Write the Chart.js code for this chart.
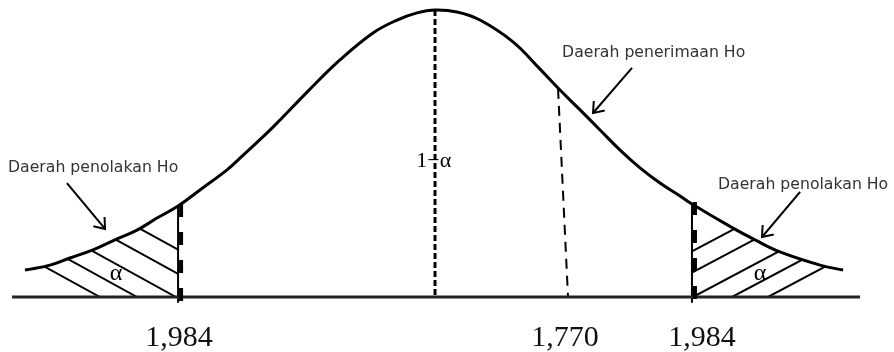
<!DOCTYPE html>
<html><head><meta charset="utf-8">
<script src="https://cdn.jsdelivr.net/npm/chart.js@4/dist/chart.umd.min.js"></script>
<style>html,body{margin:0;padding:0;background:#fff;overflow:hidden}canvas{display:block}</style>
</head><body>
<canvas id="c" width="894" height="352"></canvas>
<script>
// ---- data (x: position units, y: relative height) ----
const curveX = [-3.166,-2.973,-2.819,-2.641,-2.471,-2.301,-2.147,-1.984,-1.815,-1.606,-1.506,-1.251,-0.988,-0.734,-0.479,-0.293,-0.139,0,0.17,0.347,0.602,0.811,0.965,1.120,1.274,1.429,1.583,1.737,1.892,1.984,2.301,2.471,2.664,2.973,3.151];
const curveY = [0.094,0.111,0.136,0.164,0.199,0.233,0.275,0.317,0.373,0.443,0.484,0.592,0.714,0.826,0.920,0.965,0.990,1.0,0.993,0.965,0.889,0.794,0.721,0.652,0.582,0.512,0.450,0.397,0.352,0.324,0.240,0.199,0.157,0.111,0.094];
const criticalX = [-1.984, 1.984];
const criticalTop = [0.317, 0.324];
const centerX = [0, 0];
const centerY = [1.0, 0];
const acceptX = [0.95, 1.027];
const acceptY = [0.725, 0];
const baseX = [-3.266, 3.282];
const leftHatch = [-2.587, -2.301, -2.0, -1.660, -1.320];
const rightHatch = [1.320, 1.629, 1.992, 2.293, 2.571];
const tickLabels = ['1,984', '1,770', '1,984'];
const tickX = [-1.977, 1.004, 2.062];
const tickY = [-0.1707, -0.1707, -0.1707];
const regionLabels = ['Daerah penolakan Ho', 'Daerah penerimaan Ho', 'Daerah penolakan Ho'];
const regionX = [-3.297, 0.981, 2.185];
const regionY = [0.4355, 0.836, 0.376];
const arrowFromX = [-2.842, 1.521, 2.819];
const arrowFromY = [0.397, 0.798, 0.366];
const arrowToX = [-2.548, 1.220, 2.525];
const arrowToY = [0.237, 0.641, 0.209];
const greekLabels = ['\u03B1', '\u03B1', '1\u2212\u03B1'];
const greekX = [-2.463, 2.510, -0.01];
const greekY = [0.080, 0.080, 0.474];

const pts = (xs, ys) => xs.map((x, i) => ({x, y: ys[i]}));

const hatchPlugin = {
  id: 'hatch',
  beforeDatasetsDraw(chart) {
    const {ctx, scales: {x: xs, y: ys}} = chart;
    const tails = [
      {from: curveX[0], to: criticalX[0], anchors: leftHatch, dir: -1, slope: 0.55},
      {from: criticalX[1], to: curveX[curveX.length - 1], anchors: rightHatch, dir: 1, slope: 0.53}
    ];
    tails.forEach(t => {
      ctx.save();
      ctx.beginPath();
      ctx.moveTo(xs.getPixelForValue(t.from), ys.getPixelForValue(0));
      curveX.forEach((cx, i) => {
        if (cx >= t.from - 1e-9 && cx <= t.to + 1e-9) ctx.lineTo(xs.getPixelForValue(cx), ys.getPixelForValue(curveY[i]));
      });
      ctx.lineTo(xs.getPixelForValue(t.to), ys.getPixelForValue(0));
      ctx.closePath();
      ctx.clip();
      ctx.strokeStyle = '#000';
      ctx.lineWidth = 2;
      t.anchors.forEach(a => {
        const bx = xs.getPixelForValue(a), by = ys.getPixelForValue(0);
        ctx.beginPath();
        ctx.moveTo(bx, by);
        ctx.lineTo(bx + t.dir * 300, by - 300 * t.slope);
        ctx.stroke();
      });
      ctx.restore();
    });
  },
  afterDatasetsDraw(chart) {
    const {ctx, scales: {x: xs, y: ys}} = chart;
    ctx.save();
    // thick dashes beside critical lines
    ctx.strokeStyle = '#000';
    ctx.lineWidth = 4;
    ctx.setLineDash([13, 15]);
    ctx.lineCap = 'butt';
    criticalX.forEach((cx, i) => {
      const px = xs.getPixelForValue(cx) + 3;
      ctx.beginPath();
      ctx.moveTo(px, ys.getPixelForValue(criticalTop[i]) - 2);
      ctx.lineTo(px, ys.getPixelForValue(-0.025));
      ctx.stroke();
    });
    ctx.setLineDash([]);
    // arrows
    ctx.lineWidth = 2;
    arrowFromX.forEach((fx, i) => {
      const x1 = xs.getPixelForValue(fx), y1 = ys.getPixelForValue(arrowFromY[i]);
      const x2 = xs.getPixelForValue(arrowToX[i]), y2 = ys.getPixelForValue(arrowToY[i]);
      ctx.beginPath(); ctx.moveTo(x1, y1); ctx.lineTo(x2, y2); ctx.stroke();
      const ang = Math.atan2(y2 - y1, x2 - x1);
      const L = 12, w = 0.65;
      ctx.beginPath();
      ctx.moveTo(x2 - L * Math.cos(ang - w), y2 - L * Math.sin(ang - w));
      ctx.lineTo(x2, y2);
      ctx.lineTo(x2 - L * Math.cos(ang + w), y2 - L * Math.sin(ang + w));
      ctx.stroke();
    });
    // region labels
    ctx.fillStyle = '#333';
    ctx.font = '15.7px "DejaVu Sans"';
    ctx.textAlign = 'left';
    ctx.textBaseline = 'alphabetic';
    regionLabels.forEach((t, i) => ctx.fillText(t, xs.getPixelForValue(regionX[i]), ys.getPixelForValue(regionY[i])));
    // greek labels
    ctx.fillStyle = '#000';
    ctx.textAlign = 'center';
    ctx.textBaseline = 'middle';
    greekLabels.forEach((t, i) => {
      ctx.font = (i < 2 ? '24px' : '22px') + ' "Liberation Serif"';
      ctx.fillText(t, xs.getPixelForValue(greekX[i]), ys.getPixelForValue(greekY[i]));
    });
    // tick labels
    ctx.font = '30px "Liberation Serif"';
    ctx.textBaseline = 'alphabetic';
    ctx.fillStyle = '#111';
    tickLabels.forEach((t, i) => ctx.fillText(t, xs.getPixelForValue(tickX[i]), ys.getPixelForValue(tickY[i])));
    ctx.restore();
  }
};

const line = (data, extra) => Object.assign({data, borderColor: '#000', borderWidth: 2, pointRadius: 0, fill: false, tension: 0}, extra);

new Chart(document.getElementById('c'), {
  type: 'line',
  data: {
    datasets: [
      line(pts(curveX, curveY), {borderWidth: 3, tension: 0.4, order: 0}),
      line(pts(baseX, [0, 0]), {borderColor: '#222', borderWidth: 3, order: 1}),
      line(pts(centerX, centerY), {borderWidth: 3, borderDash: [6, 3], order: 2}),
      line(pts(acceptX, acceptY), {borderWidth: 2, borderDash: [10, 7], order: 3}),
      line(pts([criticalX[0], criticalX[0]], [criticalTop[0], -0.02]), {order: 4}),
      line(pts([criticalX[1], criticalX[1]], [criticalTop[1], -0.02]), {order: 5})
    ]
  },
  options: {
    responsive: false,
    animation: false,
    events: [],
    layout: {padding: 0},
    plugins: {legend: {display: false}, tooltip: {enabled: false}},
    scales: {
      x: {type: 'linear', display: false, min: -3.359, max: 3.544},
      y: {type: 'linear', display: false, min: -0.1916, max: 1.0348}
    }
  },
  plugins: [hatchPlugin]
});
</script>
</body></html>
